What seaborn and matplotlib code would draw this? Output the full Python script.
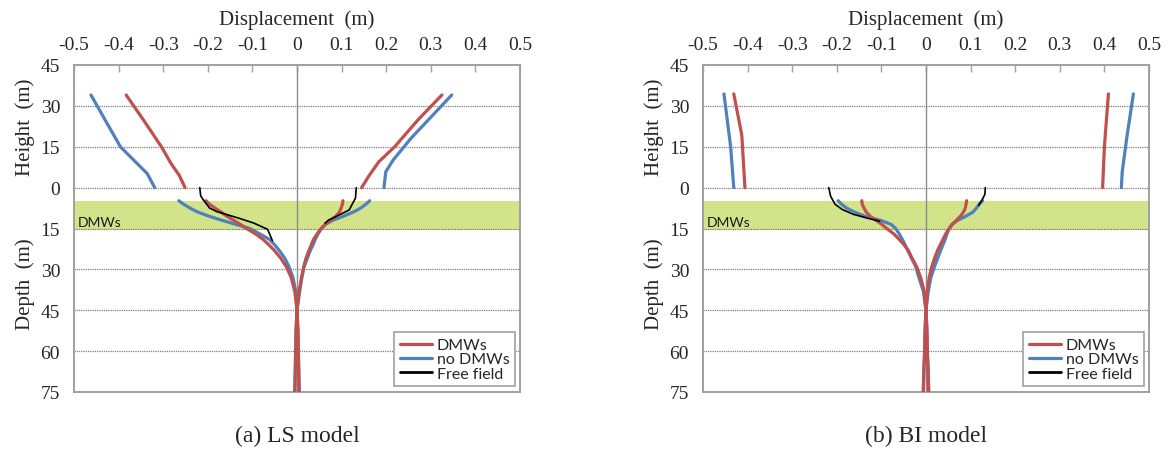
import numpy as np
import matplotlib
matplotlib.use("Agg")
import matplotlib.pyplot as plt
import seaborn as sns
from matplotlib.lines import Line2D

# ---------------------------------------------------------------- data
# elevation (m): positive = height above ground, negative = depth
pile_z = [-4.8, -6, -7.5, -9, -10.5, -12, -13.5, -15, -17, -19, -21, -23,
          -26, -29, -33, -38, -45, -52, -60, -68, -75]

# (a) LS model -------------------------------------------------------
ls_dmw_top_max_z = [34, 25, 15, 9.4, 4, 0]
ls_dmw_top_max_u = [0.325, 0.272, 0.219, 0.183, 0.160, 0.145]
ls_dmw_top_min_z = [34, 25, 15, 9, 4.5, 0]
ls_dmw_top_min_u = [-0.383, -0.345, -0.304, -0.283, -0.264, -0.251]
ls_nodmw_top_max_z = [34, 18, 10, 5.8, 0]
ls_nodmw_top_max_u = [0.347, 0.255, 0.215, 0.199, 0.195]
ls_nodmw_top_min_z = [34, 15, 5.2, 0]
ls_nodmw_top_min_u = [-0.462, -0.396, -0.336, -0.319]

ls_dmw_pile_min = [-0.204, -0.197, -0.184, -0.170, -0.157, -0.142, -0.127, -0.113,
                   -0.093, -0.076, -0.063, -0.051, -0.036, -0.024, -0.013, -0.005,
                   0.0, -0.002, -0.003, -0.004, -0.005]
ls_dmw_pile_max = [0.103, 0.102, 0.099, 0.095, 0.087, 0.075, 0.063, 0.054,
                   0.045, 0.037, 0.032, 0.027, 0.020, 0.015, 0.010, 0.005,
                   0.0, 0.002, 0.003, 0.004, 0.005]
ls_nodmw_pile_min = [-0.265, -0.255, -0.240, -0.222, -0.197, -0.168, -0.137, -0.106,
                     -0.083, -0.062, -0.050, -0.040, -0.027, -0.018, -0.009, -0.003,
                     0.0, -0.002, -0.003, -0.004, -0.005]
ls_nodmw_pile_max = [0.163, 0.155, 0.143, 0.126, 0.104, 0.080, 0.064, 0.055,
                     0.047, 0.041, 0.036, 0.030, 0.023, 0.016, 0.011, 0.006,
                     0.0, 0.002, 0.003, 0.004, 0.005]

ls_free_min_z = [0, -3, -4.5, -6, -7.5, -8.8, -10, -11.5, -13, -15.3, -19.5]
ls_free_min_u = [-0.218, -0.216, -0.210, -0.203, -0.196, -0.180, -0.155, -0.125,
                 -0.097, -0.066, -0.055]
ls_free_max_z = [0, -3.9, -5.7, -8.2, -10, -11.9, -13]
ls_free_max_u = [0.133, 0.131, 0.125, 0.117, 0.095, 0.071, 0.063]

# (b) BI model -------------------------------------------------------
bi_dmw_top_max_z = [34.4, 15, 0]
bi_dmw_top_max_u = [0.409, 0.400, 0.396]
bi_dmw_top_min_z = [34.4, 19.3, 0]
bi_dmw_top_min_u = [-0.431, -0.413, -0.406]
bi_nodmw_top_max_z = [34.4, 19.3, 5.9, 0]
bi_nodmw_top_max_u = [0.465, 0.451, 0.440, 0.438]
bi_nodmw_top_min_z = [34.4, 15, 0]
bi_nodmw_top_min_u = [-0.453, -0.438, -0.431]

bi_dmw_pile_min = [-0.144, -0.143, -0.139, -0.134, -0.125, -0.112, -0.099, -0.088,
                   -0.072, -0.060, -0.049, -0.040, -0.031, -0.021, -0.012, -0.004,
                   0.0, -0.002, -0.003, -0.005, -0.006]
bi_dmw_pile_max = [0.091, 0.090, 0.088, 0.084, 0.077, 0.068, 0.059, 0.052,
                   0.044, 0.038, 0.032, 0.026, 0.019, 0.013, 0.007, 0.003,
                   0.0, 0.002, 0.003, 0.005, 0.006]
bi_nodmw_pile_min = [-0.197, -0.190, -0.178, -0.160, -0.137, -0.102, -0.078, -0.068,
                     -0.060, -0.053, -0.047, -0.041, -0.032, -0.023, -0.016, -0.006,
                     0.0, -0.002, -0.003, -0.005, -0.006]
bi_nodmw_pile_max = [0.127, 0.120, 0.113, 0.105, 0.089, 0.071, 0.058, 0.052,
                     0.047, 0.043, 0.038, 0.033, 0.026, 0.019, 0.011, 0.005,
                     0.0, 0.002, 0.003, 0.005, 0.006]

bi_free_min_z = [0, -3.1, -6.1, -8, -9.8, -11.3, -12.3]
bi_free_min_u = [-0.218, -0.214, -0.204, -0.188, -0.163, -0.129, -0.104]
bi_free_max_z = [0, -2.5, -4.7, -6.5]
bi_free_max_u = [0.133, 0.132, 0.125, 0.118]

series_names = ["DMWs", "no DMWs", "Free field"]
x_ticks = [-0.5, -0.4, -0.3, -0.2, -0.1, 0, 0.1, 0.2, 0.3, 0.4, 0.5]
x_tick_labels = ["-0.5", "-0.4", "-0.3", "-0.2", "-0.1", "0",
                 "0.1", "0.2", "0.3", "0.4", "0.5"]
y_ticks = [45, 30, 15, 0, -15, -30, -45, -60, -75]
y_tick_labels = ["45", "30", "15", "0", "15", "30", "45", "60", "75"]
band_top, band_bottom = -5, -15.5
captions = ["(a) LS model", "(b) BI model"]

panels = [
    {
        "DMWs": [(ls_dmw_top_max_u, ls_dmw_top_max_z), (ls_dmw_top_min_u, ls_dmw_top_min_z),
                 (ls_dmw_pile_max, pile_z), (ls_dmw_pile_min, pile_z)],
        "no DMWs": [(ls_nodmw_top_max_u, ls_nodmw_top_max_z), (ls_nodmw_top_min_u, ls_nodmw_top_min_z),
                    (ls_nodmw_pile_max, pile_z), (ls_nodmw_pile_min, pile_z)],
        "Free field": [(ls_free_max_u, ls_free_max_z), (ls_free_min_u, ls_free_min_z)],
    },
    {
        "DMWs": [(bi_dmw_top_max_u, bi_dmw_top_max_z), (bi_dmw_top_min_u, bi_dmw_top_min_z),
                 (bi_dmw_pile_max, pile_z), (bi_dmw_pile_min, pile_z)],
        "no DMWs": [(bi_nodmw_top_max_u, bi_nodmw_top_max_z), (bi_nodmw_top_min_u, bi_nodmw_top_min_z),
                    (bi_nodmw_pile_max, pile_z), (bi_nodmw_pile_min, pile_z)],
        "Free field": [(bi_free_max_u, bi_free_max_z), (bi_free_min_u, bi_free_min_z)],
    },
]

# ---------------------------------------------------------------- style
sns.set_style("white")
plt.rcParams["font.family"] = ["Liberation Serif", "DejaVu Serif"]

colors = {"DMWs": "#c0504d", "no DMWs": "#4f81bd", "Free field": "#000000"}
widths = {"DMWs": 2.3, "no DMWs": 2.3, "Free field": 1.2}
order = {"no DMWs": 3, "DMWs": 4, "Free field": 5}
frame_color = "#a0a0a0"
grid_color = "#7f7f7f"
band_color = "#d3e38a"
sans = ["Lato", "DejaVu Sans"]

fig = plt.figure(figsize=(11.73, 4.52), dpi=100)
axes_left = [74 / 1173, 703 / 1173]
ax_w = 446 / 1173
ax_b = (452 - 393) / 452
ax_h = 327 / 452

for k, (panel, caption) in enumerate(zip(panels, captions)):
    ax = fig.add_axes([axes_left[k], ax_b, ax_w, ax_h])
    ax.set_xlim(-0.5, 0.5)
    ax.set_ylim(-75, 45)

    # soil-improvement (DMW) zone
    ax.axhspan(band_bottom, band_top, color=band_color, lw=0, zorder=0.5)
    ax.text(-0.492, -12.6, "DMWs", family=sans, fontsize=10, color="#1a1a1a",
            va="center", ha="left", zorder=2)

    # dotted horizontal gridlines and the zero displacement axis
    for yv in [30, 15, 0, -15, -30, -45, -60]:
        ax.axhline(yv, color=grid_color, lw=0.9, ls=(0, (1, 0.8)), zorder=1)
    ax.axvline(0, color="#8c8c8c", lw=1.0, zorder=1.5)

    for name in ["no DMWs", "DMWs", "Free field"]:
        for u, z in panel[name]:
            sns.lineplot(x=u, y=z, sort=False, estimator=None, ax=ax,
                         color=colors[name], lw=widths[name], zorder=order[name],
                         legend=False)

    # axes decoration
    ax.xaxis.tick_top()
    ax.xaxis.set_label_position("top")
    ax.set_xticks(x_ticks)
    ax.set_xticklabels(x_tick_labels)
    ax.set_yticks(y_ticks)
    ax.set_yticklabels(y_tick_labels)
    ax.tick_params(axis="x", direction="in", length=5, width=1.0, color=frame_color,
                   labelsize=14, pad=9, top=True, bottom=False)
    ax.tick_params(axis="y", length=0, labelsize=14, pad=10, left=True)
    ax.set_xlabel("Displacement  (m)", fontsize=15, labelpad=8)
    ax.set_ylabel("")
    for sp in ax.spines.values():
        sp.set_color(frame_color)
        sp.set_linewidth(1.4)
        sp.set_visible(True)
    ax.grid(False)

    # Height / Depth labels alongside the vertical axis
    ax.text(-0.61, 22.5, "Height  (m)", rotation=90, ha="center", va="center",
            fontsize=15, transform=ax.transData, clip_on=False)
    ax.text(-0.61, -35, "Depth  (m)", rotation=90, ha="center", va="center",
            fontsize=15, transform=ax.transData, clip_on=False)

    handles = [Line2D([], [], color=colors[n], lw=2.3 if n != "Free field" else 2.0)
               for n in series_names]
    leg = ax.legend(handles, series_names, loc="lower right",
                    bbox_to_anchor=(0.989, 0.018), borderaxespad=0,
                    prop={"family": sans, "size": 11.5}, frameon=True, fancybox=False,
                    framealpha=1, edgecolor=frame_color, handlelength=2.0,
                    handletextpad=0.3, labelspacing=0.0, borderpad=0.35)
    leg.get_frame().set_linewidth(1.2)
    leg.set_zorder(10)

    fig.text(axes_left[k] + ax_w / 2, (452 - 436) / 452, caption,
             ha="center", va="center", fontsize=17)

fig.savefig("out.png", dpi=100, facecolor="white")
